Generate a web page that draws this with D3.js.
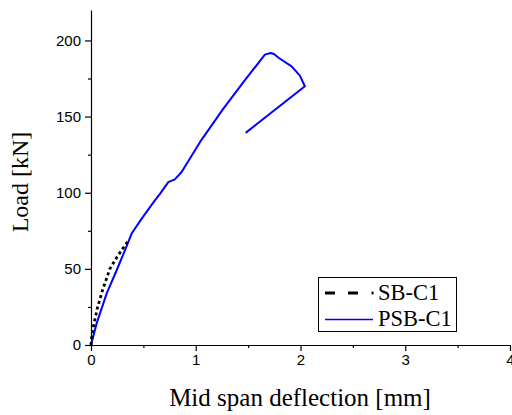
<!DOCTYPE html>
<html>
<head>
<meta charset="utf-8">
<script src="https://cdn.jsdelivr.net/npm/d3@7"></script>
<style>
  body { margin: 0; background: #fff; }
  .tick text { font-family: "Liberation Sans", Arial, sans-serif; font-size: 15px; fill: #000; }
  .domain, .tick line { stroke: #000; stroke-width: 1.2; }
  .title { font-family: "Liberation Serif", "Times New Roman", serif; fill: #000; }
</style>
</head>
<body>
<div id="chart"></div>
<script>
// SB-C1 (dashed black)
var sbDefl = [0, 0.007, 0.022, 0.06, 0.11, 0.18, 0.25, 0.31, 0.356, 0.37];
var sbLoad = [0, 5, 12, 24, 36, 50, 58, 64, 68.4, 69];

// PSB-C1 (solid blue)
var psbDefl = [0, 0.054, 0.15, 0.245, 0.324, 0.388, 0.484, 0.61, 0.66, 0.738, 0.80, 0.865, 1.04, 1.262, 1.453, 1.66, 1.715, 1.746, 1.794, 1.915, 1.994, 2.042, 1.476];
var psbLoad = [0, 14.2, 33.9, 49.1, 62.2, 73.2, 83, 95, 99.4, 107, 108.8, 113.6, 133.2, 155.1, 172.5, 190.7, 191.8, 191.1, 188.5, 183, 176.9, 169.9, 139.3];

var xTicks = [0, 1, 2, 3, 4];
var yTicks = [0, 50, 100, 150, 200];
var seriesNames = ["SB-C1", "PSB-C1"];

var svgWidth = 512;
var svgHeight = 415;

var svg = d3.select("#chart").append("svg")
    .attr("width", svgWidth)
    .attr("height", svgHeight);

var x = d3.scaleLinear().domain([0, 4]).range([91, 510]);
var y = d3.scaleLinear().domain([0, 220]).range([345, 10]);

// minor ticks first
svg.append("g")
    .attr("transform", "translate(0,345)")
    .call(d3.axisBottom(x).tickValues([0.5, 1.5, 2.5, 3.5]).tickSize(3).tickFormat(""))
    .select(".domain").remove();
svg.append("g")
    .attr("transform", "translate(91,0)")
    .call(d3.axisLeft(y).tickValues([25, 75, 125, 175]).tickSize(3).tickFormat(""))
    .select(".domain").remove();

svg.append("g")
    .attr("transform", "translate(0,345)")
    .call(d3.axisBottom(x).tickValues(xTicks).tickFormat(d3.format("d")).tickSize(6).tickSizeOuter(0).tickPadding(3));

svg.append("g")
    .attr("transform", "translate(91,0)")
    .call(d3.axisLeft(y).tickValues(yTicks).tickFormat(d3.format("d")).tickSize(6).tickSizeOuter(0).tickPadding(4));

var line = d3.line()
    .x(d => x(d[0]))
    .y(d => y(d[1]));

var sbData = sbDefl.map((d, i) => [d, sbLoad[i]]);
var psbData = psbDefl.map((d, i) => [d, psbLoad[i]]);

svg.append("path")
    .datum(psbData)
    .attr("d", line)
    .attr("fill", "none")
    .attr("stroke", "#0000ff")
    .attr("stroke-width", 2)
    .attr("stroke-linejoin", "round");

svg.append("path")
    .datum(sbData)
    .attr("d", line)
    .attr("fill", "none")
    .attr("stroke", "#000")
    .attr("stroke-width", 2.8)
    .attr("stroke-dasharray", "3,3");

// axis titles
svg.append("text")
    .attr("class", "title")
    .attr("x", 300)
    .attr("y", 406)
    .attr("text-anchor", "middle")
    .attr("font-size", "25px")
    .text("Mid span deflection [mm]");

svg.append("text")
    .attr("class", "title")
    .attr("transform", "translate(28,182) rotate(-90)")
    .attr("text-anchor", "middle")
    .attr("font-size", "24px")
    .text("Load [kN]");

// legend
var legend = svg.append("g");
legend.append("rect")
    .attr("x", 318.5)
    .attr("y", 277.5)
    .attr("width", 138)
    .attr("height", 54)
    .attr("fill", "#fff")
    .attr("stroke", "#000")
    .attr("stroke-width", 1);

legend.append("line")
    .attr("x1", 325).attr("x2", 360)
    .attr("y1", 293).attr("y2", 293)
    .attr("stroke", "#000")
    .attr("stroke-width", 2.8)
    .attr("stroke-dasharray", "10,13");
legend.append("line")
    .attr("x1", 371.5).attr("x2", 373.5)
    .attr("y1", 293).attr("y2", 293)
    .attr("stroke", "#000")
    .attr("stroke-width", 2.8);
legend.append("line")
    .attr("x1", 325).attr("x2", 373)
    .attr("y1", 319.5).attr("y2", 319.5)
    .attr("stroke", "#0000ff")
    .attr("stroke-width", 1.5);

legend.selectAll(".legtext")
    .data(seriesNames)
    .enter()
    .append("text")
    .attr("class", "title")
    .attr("x", 378)
    .attr("y", (d, i) => 300 + i * 25.5)
    .attr("font-size", "22.5px")
    .text(d => d);
</script>
</body>
</html>
